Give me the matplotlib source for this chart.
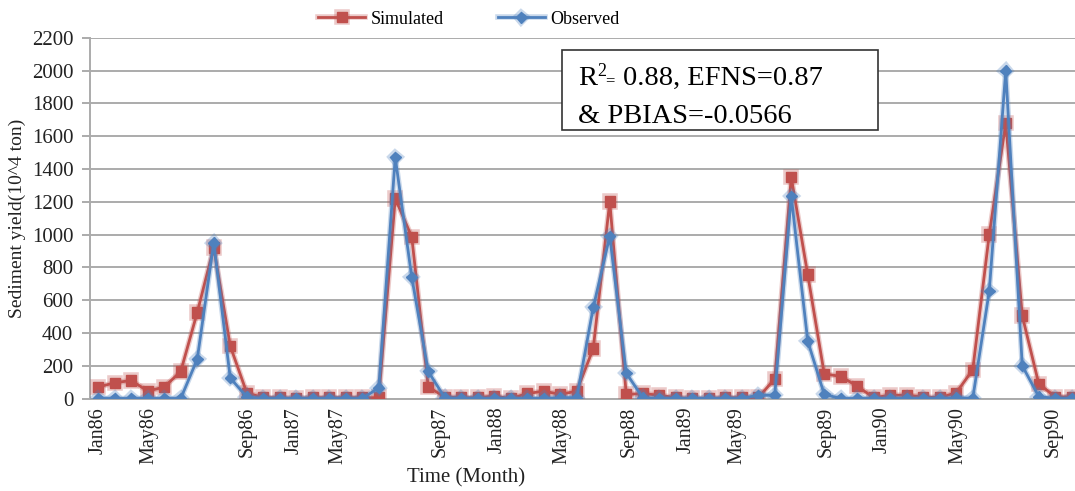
import matplotlib
matplotlib.use('Agg')
import matplotlib.pyplot as plt
from matplotlib.patches import Rectangle
import matplotlib.patheffects as pe

plt.rcParams['font.family'] = ['Liberation Serif', 'DejaVu Serif']

# monthly sediment yield (10^4 ton), Jan86 .. Dec90
simulated = [70, 96, 110, 45, 70, 165, 525, 920, 320, 35,
             5, 5, 0, 5, 5, 5, 5, 5, 1220, 985,
             70, 10, 5, 5, 15, 0, 30, 45, 25, 45,
             305, 1200, 25, 30, 20, 5, 0, 0, 5, 5,
             5, 120, 1350, 755, 150, 135, 75, 5, 20, 20,
             10, 5, 35, 175, 1000, 1680, 505, 90, 10, 10]
observed = [0, 0, 0, 0, 0, 0, 240, 950, 125, 10,
            0, 0, 0, 0, 0, 0, 0, 65, 1470, 740,
            165, 5, 0, 0, 0, 0, 0, 0, 5, 5,
            555, 990, 155, 5, 0, 0, 0, 0, 0, 0,
            20, 20, 1235, 350, 25, 0, 0, 0, 0, 0,
            0, 0, 5, 0, 655, 2000, 200, 12, 0, 0]

# the original chart puts its labels at uneven spots along the months
tick_labels = ['Jan86', 'May86', 'Sep86', 'Jan87', 'May87', 'Sep87', 'Jan88', 'May88',
               'Sep88', 'Jan89', 'May89', 'Sep89', 'Jan90', 'May90', 'Sep90']
tick_pos = [0, 3.1, 9.0, 11.9, 14.5, 20.7, 24.2, 28.1, 32.2, 35.6, 38.7, 44.1, 47.5, 52.1, 57.9]

red = '#C0504D'
blue = '#4F81BD'
grid_c = '#ABABAB'

fig = plt.figure(figsize=(10.75, 4.91), dpi=100)
ax = fig.add_axes([90/1075, 1-398.5/491, 990/1075, (398.5-37.7)/491])

months = list(range(len(simulated)))
ax.plot(months, simulated, color=red, lw=2.0, marker='s', ms=7.5,
        mec=red, mfc=red, label='Simulated', zorder=3,
        path_effects=[pe.Stroke(linewidth=4, foreground=red, alpha=0.3), pe.Normal()])
ax.plot(months, observed, color=blue, lw=2.0, marker='D', ms=5.5,
        mec=blue, mfc=blue, label='Observed', zorder=4,
        path_effects=[pe.Stroke(linewidth=4, foreground=blue, alpha=0.3), pe.Normal()])

ax.set_xlim(-0.5, len(simulated) - 0.5)
ax.set_ylim(0, 2200)
ax.set_yticks(range(0, 2201, 200))
ax.yaxis.grid(True, color=grid_c, lw=1.4)
ax.set_axisbelow(True)
for s in ['top', 'right']:
    ax.spines[s].set_visible(False)
ax.spines['left'].set_color(grid_c)
ax.spines['left'].set_linewidth(1.4)
ax.spines['bottom'].set_color(grid_c)
ax.spines['bottom'].set_linewidth(1.4)
ax.tick_params(axis='y', length=6, width=1.4, color=grid_c, labelsize=15, pad=6, labelcolor='#222222')
ax.set_xticks(tick_pos)
ax.set_xticklabels(tick_labels, rotation=90, va='top', ha='center', fontsize=14.5, color='#222222')
ax.tick_params(axis='x', length=0, pad=6)

fig.text(17/1075, 1-218/491, 'Sediment yield(10^4 ton)', rotation=90,
         ha='center', va='center', fontsize=14, color='#222222')
fig.text(466/1075, 1-478/491, 'Time (Month)', ha='center', va='center', fontsize=15, color='#222222')

fig.legend(loc='center', bbox_to_anchor=(469/1075, 1-19/491), ncol=2, frameon=False,
           fontsize=13, handlelength=2.6, columnspacing=3.0, handletextpad=0.3)

# stats box
fig.patches.append(Rectangle((562/1075, 1-130/491), 316/1075, 80/491,
                             transform=fig.transFigure, fill=True, fc='white',
                             ec='#333333', lw=1.2, zorder=5))
fig.text(578/1075, 1-85/491, 'R', fontsize=20.5, va='baseline', zorder=6)
fig.text(597/1075, 1-76/491, '2', fontsize=13, va='baseline', zorder=6)
fig.text(605/1075, 1-85/491, '=', fontsize=12, va='baseline', zorder=6)
fig.text(623/1075, 1-85/491, '0.88, EFNS=0.87', fontsize=20.5, va='baseline', zorder=6)
fig.text(578/1075, 1-123/491, '& PBIAS=-0.0566', fontsize=20.5, va='baseline', zorder=6)

fig.savefig('out.png', dpi=100)
